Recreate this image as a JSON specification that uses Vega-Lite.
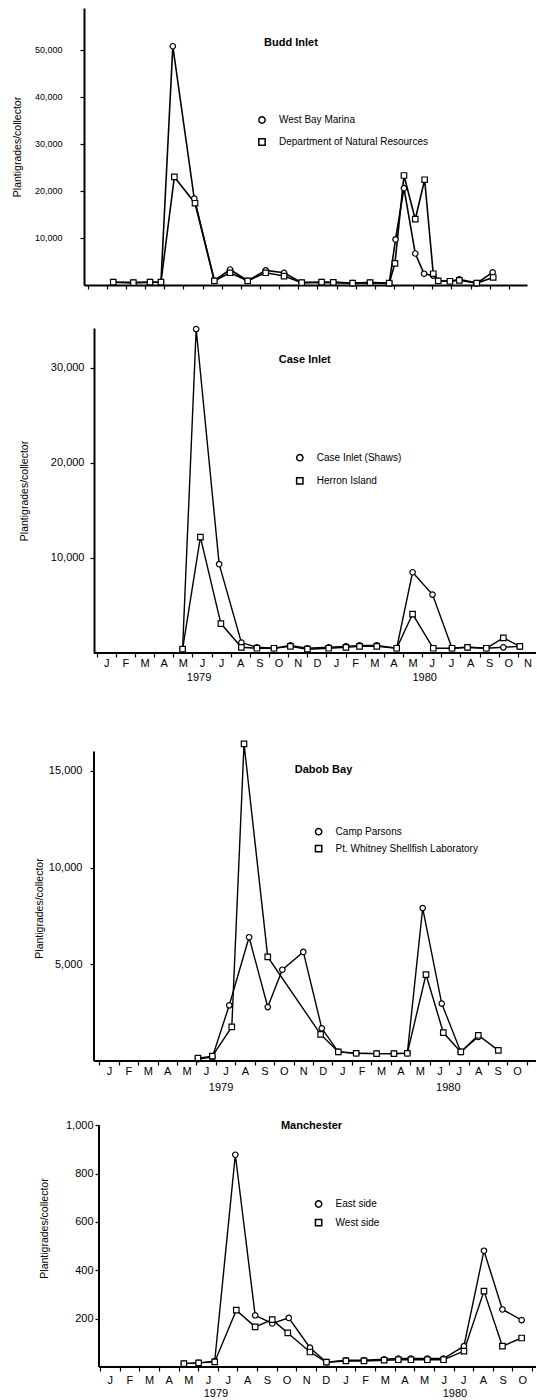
{
  "$schema": "https://vega.github.io/schema/vega-lite/v6.json",
  "background": "white",
  "padding": {"left": 12, "top": 8, "right": 0, "bottom": 0},
  "spacing": 43,
  "bounds": "flush",
  "resolve": {"scale": {"x": "independent", "y": "independent", "shape": "independent"}, "legend": {"shape": "independent"}},
  "config": {
    "font": "Liberation Sans",
    "view": {"stroke": null},
    "axis": {"grid": false, "domainColor": "black", "domainWidth": 2, "tickColor": "black", "tickWidth": 1.2, "tickSize": 4, "labelColor": "black", "labelFont": "Liberation Sans", "labelFontSize": 11, "titleColor": "black", "titleFont": "Liberation Sans", "titleFontSize": 10.5, "titleFontWeight": "normal"},
    "legend": {"labelColor": "black", "labelFont": "Liberation Sans", "labelFontSize": 10, "padding": 0}
  },
  "vconcat": [
    {
      "width": 443, "height": 277,
      "data": {"values": [
        {"site": "West Bay Marina", "month": 1.34, "value": 600},
        {"site": "West Bay Marina", "month": 2.39, "value": 500},
        {"site": "West Bay Marina", "month": 3.26, "value": 600},
        {"site": "West Bay Marina", "month": 3.83, "value": 600},
        {"site": "West Bay Marina", "month": 4.45, "value": 50800},
        {"site": "West Bay Marina", "month": 5.57, "value": 18400},
        {"site": "West Bay Marina", "month": 6.62, "value": 900},
        {"site": "West Bay Marina", "month": 7.44, "value": 3300},
        {"site": "West Bay Marina", "month": 8.36, "value": 900},
        {"site": "West Bay Marina", "month": 9.3, "value": 3100},
        {"site": "West Bay Marina", "month": 10.26, "value": 2600},
        {"site": "West Bay Marina", "month": 11.18, "value": 500},
        {"site": "West Bay Marina", "month": 12.22, "value": 600},
        {"site": "West Bay Marina", "month": 12.83, "value": 550},
        {"site": "West Bay Marina", "month": 13.84, "value": 400},
        {"site": "West Bay Marina", "month": 14.75, "value": 500},
        {"site": "West Bay Marina", "month": 15.75, "value": 400},
        {"site": "West Bay Marina", "month": 16.08, "value": 9700},
        {"site": "West Bay Marina", "month": 16.52, "value": 20600},
        {"site": "West Bay Marina", "month": 17.11, "value": 6700},
        {"site": "West Bay Marina", "month": 17.57, "value": 2400},
        {"site": "West Bay Marina", "month": 18.05, "value": 2000},
        {"site": "West Bay Marina", "month": 18.31, "value": 900},
        {"site": "West Bay Marina", "month": 18.92, "value": 800},
        {"site": "West Bay Marina", "month": 19.41, "value": 1200},
        {"site": "West Bay Marina", "month": 20.32, "value": 400},
        {"site": "West Bay Marina", "month": 21.15, "value": 2700},
        {"site": "Department of Natural Resources", "month": 1.34, "value": 600},
        {"site": "Department of Natural Resources", "month": 2.39, "value": 500},
        {"site": "Department of Natural Resources", "month": 3.26, "value": 600},
        {"site": "Department of Natural Resources", "month": 3.83, "value": 600},
        {"site": "Department of Natural Resources", "month": 4.53, "value": 23000},
        {"site": "Department of Natural Resources", "month": 5.61, "value": 17400},
        {"site": "Department of Natural Resources", "month": 6.62, "value": 900},
        {"site": "Department of Natural Resources", "month": 7.44, "value": 2600},
        {"site": "Department of Natural Resources", "month": 8.36, "value": 900},
        {"site": "Department of Natural Resources", "month": 9.3, "value": 2600},
        {"site": "Department of Natural Resources", "month": 10.26, "value": 1900},
        {"site": "Department of Natural Resources", "month": 11.18, "value": 500},
        {"site": "Department of Natural Resources", "month": 12.22, "value": 600},
        {"site": "Department of Natural Resources", "month": 12.83, "value": 550},
        {"site": "Department of Natural Resources", "month": 13.84, "value": 400},
        {"site": "Department of Natural Resources", "month": 14.75, "value": 500},
        {"site": "Department of Natural Resources", "month": 15.75, "value": 400},
        {"site": "Department of Natural Resources", "month": 16.05, "value": 4600},
        {"site": "Department of Natural Resources", "month": 16.52, "value": 23300},
        {"site": "Department of Natural Resources", "month": 17.11, "value": 14000},
        {"site": "Department of Natural Resources", "month": 17.6, "value": 22400},
        {"site": "Department of Natural Resources", "month": 18.05, "value": 2400},
        {"site": "Department of Natural Resources", "month": 18.31, "value": 900},
        {"site": "Department of Natural Resources", "month": 18.92, "value": 800},
        {"site": "Department of Natural Resources", "month": 19.41, "value": 1000},
        {"site": "Department of Natural Resources", "month": 20.32, "value": 400},
        {"site": "Department of Natural Resources", "month": 21.18, "value": 1600}
      ]},
      "layer": [
        {"mark": {"type": "line", "color": "black", "strokeWidth": 1.6},
          "encoding": {
            "x": {"field": "month", "type": "quantitative", "scale": {"domain": [-0.188, 22.945], "nice": false, "zero": false},
              "axis": {"title": null, "values": [0,1,2,3,4,5,6,7,8,9,10,11,12,13,14,15,16,17,18,19,20,21,22], "tickCount": 23, "labels": false, "domain": true, "tickSize": 4}},
            "y": {"field": "value", "type": "quantitative", "scale": {"domain": [0, 58936], "nice": false, "zero": false},
              "axis": {"title": "Plantigrades/collector", "values": [10000, 20000, 30000, 40000, 50000], "format": ",.0f", "labelFontSize": 9, "labelPadding": 18, "minExtent": 55, "maxExtent": 55, "titlePadding": 7}},
            "detail": {"field": "site"}}},
        {"mark": {"type": "point", "filled": true, "fill": "white", "stroke": "black", "strokeWidth": 1.2, "size": 30, "opacity": 1},
          "encoding": {
            "x": {"field": "month", "type": "quantitative", "axis": {"title": null, "values": [0,1,2,3,4,5,6,7,8,9,10,11,12,13,14,15,16,17,18,19,20,21,22], "tickCount": 23, "labels": false, "domain": true, "tickSize": 4}},
            "y": {"field": "value", "type": "quantitative", "axis": {"title": "Plantigrades/collector", "values": [10000, 20000, 30000, 40000, 50000], "format": ",.0f", "labelFontSize": 9, "labelPadding": 18, "minExtent": 55, "maxExtent": 55, "titlePadding": 7}},
            "shape": {"field": "site", "type": "nominal",
              "scale": {"domain": ["West Bay Marina", "Department of Natural Resources"], "range": ["circle", "square"]},
              "legend": {"title": null, "orient": "none", "legendX": 173, "legendY": 107, "symbolSize": 40, "labelOffset": 12, "rowPadding": 8}}}},
        {"data": {"values": [{}]}, "mark": {"type": "text", "fontWeight": "bold", "fontSize": 11, "color": "black"},
          "encoding": {
            "x": {"datum": 10.62, "type": "quantitative", "axis": {"title": null, "values": [0,1,2,3,4,5,6,7,8,9,10,11,12,13,14,15,16,17,18,19,20,21,22], "tickCount": 23, "labels": false, "domain": true, "tickSize": 4}},
            "y": {"datum": 51400, "type": "quantitative", "axis": {"title": "Plantigrades/collector", "values": [10000, 20000, 30000, 40000, 50000], "format": ",.0f", "labelFontSize": 9, "labelPadding": 18, "minExtent": 55, "maxExtent": 55, "titlePadding": 7}},
            "text": {"value": "Budd Inlet"}}}
      ]
    },
    {
      "width": 452, "height": 325,
      "data": {"values": [
        {"site": "Case Inlet (Shaws)", "month": 4.49, "value": 400},
        {"site": "Case Inlet (Shaws)", "month": 5.2, "value": 34100},
        {"site": "Case Inlet (Shaws)", "month": 6.4, "value": 9350},
        {"site": "Case Inlet (Shaws)", "month": 7.56, "value": 1100},
        {"site": "Case Inlet (Shaws)", "month": 8.37, "value": 600},
        {"site": "Case Inlet (Shaws)", "month": 9.26, "value": 500},
        {"site": "Case Inlet (Shaws)", "month": 10.12, "value": 800},
        {"site": "Case Inlet (Shaws)", "month": 11.01, "value": 500},
        {"site": "Case Inlet (Shaws)", "month": 12.12, "value": 600},
        {"site": "Case Inlet (Shaws)", "month": 13.02, "value": 700},
        {"site": "Case Inlet (Shaws)", "month": 13.73, "value": 800},
        {"site": "Case Inlet (Shaws)", "month": 14.63, "value": 800},
        {"site": "Case Inlet (Shaws)", "month": 15.67, "value": 500},
        {"site": "Case Inlet (Shaws)", "month": 16.5, "value": 8500},
        {"site": "Case Inlet (Shaws)", "month": 17.54, "value": 6150},
        {"site": "Case Inlet (Shaws)", "month": 18.56, "value": 500},
        {"site": "Case Inlet (Shaws)", "month": 19.37, "value": 600},
        {"site": "Case Inlet (Shaws)", "month": 20.35, "value": 500},
        {"site": "Case Inlet (Shaws)", "month": 21.24, "value": 600},
        {"site": "Case Inlet (Shaws)", "month": 22.1, "value": 700},
        {"site": "Herron Island", "month": 4.49, "value": 400},
        {"site": "Herron Island", "month": 5.42, "value": 12200},
        {"site": "Herron Island", "month": 6.49, "value": 3100},
        {"site": "Herron Island", "month": 7.56, "value": 600},
        {"site": "Herron Island", "month": 8.37, "value": 500},
        {"site": "Herron Island", "month": 9.26, "value": 500},
        {"site": "Herron Island", "month": 10.12, "value": 700},
        {"site": "Herron Island", "month": 11.01, "value": 400},
        {"site": "Herron Island", "month": 12.12, "value": 500},
        {"site": "Herron Island", "month": 13.02, "value": 600},
        {"site": "Herron Island", "month": 13.73, "value": 700},
        {"site": "Herron Island", "month": 14.63, "value": 700},
        {"site": "Herron Island", "month": 15.67, "value": 500},
        {"site": "Herron Island", "month": 16.5, "value": 4100},
        {"site": "Herron Island", "month": 17.58, "value": 500},
        {"site": "Herron Island", "month": 18.56, "value": 500},
        {"site": "Herron Island", "month": 19.37, "value": 600},
        {"site": "Herron Island", "month": 20.35, "value": 500},
        {"site": "Herron Island", "month": 21.24, "value": 1600},
        {"site": "Herron Island", "month": 22.1, "value": 700}
      ]},
      "layer": [
        {"mark": {"type": "line", "color": "black", "strokeWidth": 1.4},
          "encoding": {
            "x": {"field": "month", "type": "quantitative", "scale": {"domain": [-0.658, 22.945], "nice": false, "zero": false},
              "axis": {"title": null, "values": [0,1,2,3,4,5,6,7,8,9,10,11,12,13,14,15,16,17,18,19,20,21,22], "tickCount": 23, "domain": false, "tickSize": 4, "labelPadding": 0, "labelOffset": 9.6, "labelExpr": "substring('JFMAMJJASOND', datum.value % 12, datum.value % 12 + 1)", "labelFlush": false, "labelOverlap": false, "labelBound": false}},
            "y": {"field": "value", "type": "quantitative", "scale": {"domain": [0, 34210], "nice": false, "zero": false},
              "axis": {"title": "Plantigrades/collector", "values": [10000, 20000, 30000], "format": ",.0f", "offset": -10, "labelPadding": 6, "minExtent": 55, "maxExtent": 55, "titlePadding": 9.3}},
            "detail": {"field": "site"}}},
        {"mark": {"type": "point", "filled": true, "fill": "white", "stroke": "black", "strokeWidth": 1.2, "size": 30, "opacity": 1},
          "encoding": {
            "x": {"field": "month", "type": "quantitative", "axis": {"title": null, "values": [0,1,2,3,4,5,6,7,8,9,10,11,12,13,14,15,16,17,18,19,20,21,22], "tickCount": 23, "domain": false, "tickSize": 4, "labelPadding": 0, "labelOffset": 9.6, "labelExpr": "substring('JFMAMJJASOND', datum.value % 12, datum.value % 12 + 1)", "labelFlush": false, "labelOverlap": false, "labelBound": false}},
            "y": {"field": "value", "type": "quantitative", "axis": {"title": "Plantigrades/collector", "values": [10000, 20000, 30000], "format": ",.0f", "offset": -10, "labelPadding": 6, "minExtent": 55, "maxExtent": 55, "titlePadding": 9.3}},
            "shape": {"field": "site", "type": "nominal",
              "scale": {"domain": ["Case Inlet (Shaws)", "Herron Island"], "range": ["circle", "square"]},
              "legend": {"title": null, "orient": "none", "legendX": 210.8, "legendY": 124.7, "symbolSize": 40, "labelOffset": 12, "rowPadding": 9.2}}}},
        {"data": {"values": [{}]}, "mark": {"type": "rule", "color": "black", "strokeWidth": 2},
          "encoding": {
            "x": {"datum": -0.136, "type": "quantitative", "axis": {"title": null, "values": [0,1,2,3,4,5,6,7,8,9,10,11,12,13,14,15,16,17,18,19,20,21,22], "tickCount": 23, "domain": false, "tickSize": 4, "labelPadding": 0, "labelOffset": 9.6, "labelExpr": "substring('JFMAMJJASOND', datum.value % 12, datum.value % 12 + 1)", "labelFlush": false, "labelOverlap": false, "labelBound": false}},
            "x2": {"datum": 22.945},
            "y": {"datum": 1, "type": "quantitative", "axis": {"title": "Plantigrades/collector", "values": [10000, 20000, 30000], "format": ",.0f", "offset": -10, "labelPadding": 6, "minExtent": 55, "maxExtent": 55, "titlePadding": 9.3}}}},
        {"data": {"values": [{}]}, "mark": {"type": "text", "fontWeight": "bold", "fontSize": 11, "color": "black"},
          "encoding": {
            "x": {"datum": 10.87, "type": "quantitative", "axis": {"title": null, "values": [0,1,2,3,4,5,6,7,8,9,10,11,12,13,14,15,16,17,18,19,20,21,22], "tickCount": 23, "domain": false, "tickSize": 4, "labelPadding": 0, "labelOffset": 9.6, "labelExpr": "substring('JFMAMJJASOND', datum.value % 12, datum.value % 12 + 1)", "labelFlush": false, "labelOverlap": false, "labelBound": false}},
            "y": {"datum": 30840, "type": "quantitative", "axis": {"title": "Plantigrades/collector", "values": [10000, 20000, 30000], "format": ",.0f", "offset": -10, "labelPadding": 6, "minExtent": 55, "maxExtent": 55, "titlePadding": 9.3}},
            "text": {"value": "Case Inlet"}}},
        {"data": {"values": [{}]}, "mark": {"type": "text", "fontSize": 11, "color": "black"},
          "encoding": {
            "x": {"datum": 5.35, "type": "quantitative", "axis": {"title": null, "values": [0,1,2,3,4,5,6,7,8,9,10,11,12,13,14,15,16,17,18,19,20,21,22], "tickCount": 23, "domain": false, "tickSize": 4, "labelPadding": 0, "labelOffset": 9.6, "labelExpr": "substring('JFMAMJJASOND', datum.value % 12, datum.value % 12 + 1)", "labelFlush": false, "labelOverlap": false, "labelBound": false}},
            "y": {"datum": -2630, "type": "quantitative", "axis": {"title": "Plantigrades/collector", "values": [10000, 20000, 30000], "format": ",.0f", "offset": -10, "labelPadding": 6, "minExtent": 55, "maxExtent": 55, "titlePadding": 9.3}},
            "text": {"value": "1979"}}},
        {"data": {"values": [{}]}, "mark": {"type": "text", "fontSize": 11, "color": "black"},
          "encoding": {
            "x": {"datum": 17.13, "type": "quantitative", "axis": {"title": null, "values": [0,1,2,3,4,5,6,7,8,9,10,11,12,13,14,15,16,17,18,19,20,21,22], "tickCount": 23, "domain": false, "tickSize": 4, "labelPadding": 0, "labelOffset": 9.6, "labelExpr": "substring('JFMAMJJASOND', datum.value % 12, datum.value % 12 + 1)", "labelFlush": false, "labelOverlap": false, "labelBound": false}},
            "y": {"datum": -2630, "type": "quantitative", "axis": {"title": "Plantigrades/collector", "values": [10000, 20000, 30000], "format": ",.0f", "offset": -10, "labelPadding": 6, "minExtent": 55, "maxExtent": 55, "titlePadding": 9.3}},
            "text": {"value": "1980"}}}
      ]
    },
    {
      "width": 452, "height": 365,
      "data": {"values": [
        {"site": "Camp Parsons", "month": 5.08, "value": 100},
        {"site": "Camp Parsons", "month": 5.82, "value": 200},
        {"site": "Camp Parsons", "month": 6.69, "value": 2880},
        {"site": "Camp Parsons", "month": 7.71, "value": 6400},
        {"site": "Camp Parsons", "month": 8.67, "value": 2790},
        {"site": "Camp Parsons", "month": 9.42, "value": 4720},
        {"site": "Camp Parsons", "month": 10.5, "value": 5640},
        {"site": "Camp Parsons", "month": 11.45, "value": 1690},
        {"site": "Camp Parsons", "month": 12.3, "value": 470},
        {"site": "Camp Parsons", "month": 13.22, "value": 400},
        {"site": "Camp Parsons", "month": 14.27, "value": 380},
        {"site": "Camp Parsons", "month": 15.16, "value": 380},
        {"site": "Camp Parsons", "month": 15.85, "value": 400},
        {"site": "Camp Parsons", "month": 16.64, "value": 7910},
        {"site": "Camp Parsons", "month": 17.62, "value": 2970},
        {"site": "Camp Parsons", "month": 18.6, "value": 470},
        {"site": "Camp Parsons", "month": 19.5, "value": 1250},
        {"site": "Pt. Whitney Shellfish Laboratory", "month": 5.08, "value": 150},
        {"site": "Pt. Whitney Shellfish Laboratory", "month": 5.82, "value": 250},
        {"site": "Pt. Whitney Shellfish Laboratory", "month": 6.82, "value": 1760},
        {"site": "Pt. Whitney Shellfish Laboratory", "month": 7.45, "value": 16400},
        {"site": "Pt. Whitney Shellfish Laboratory", "month": 8.67, "value": 5380},
        {"site": "Pt. Whitney Shellfish Laboratory", "month": 11.39, "value": 1380},
        {"site": "Pt. Whitney Shellfish Laboratory", "month": 12.3, "value": 470},
        {"site": "Pt. Whitney Shellfish Laboratory", "month": 13.22, "value": 400},
        {"site": "Pt. Whitney Shellfish Laboratory", "month": 14.27, "value": 380},
        {"site": "Pt. Whitney Shellfish Laboratory", "month": 15.16, "value": 380},
        {"site": "Pt. Whitney Shellfish Laboratory", "month": 15.85, "value": 400},
        {"site": "Pt. Whitney Shellfish Laboratory", "month": 16.81, "value": 4470},
        {"site": "Pt. Whitney Shellfish Laboratory", "month": 17.7, "value": 1470},
        {"site": "Pt. Whitney Shellfish Laboratory", "month": 18.6, "value": 470},
        {"site": "Pt. Whitney Shellfish Laboratory", "month": 19.5, "value": 1330},
        {"site": "Pt. Whitney Shellfish Laboratory", "month": 20.53, "value": 550}
      ]},
      "layer": [
        {"mark": {"type": "line", "color": "black", "strokeWidth": 1.4},
          "encoding": {
            "x": {"field": "month", "type": "quantitative", "scale": {"domain": [-0.782, 22.469], "nice": false, "zero": false},
              "axis": {"title": null, "values": [0,1,2,3,4,5,6,7,8,9,10,11,12,13,14,15,16,17,18,19,20,21,22], "tickCount": 23, "domain": false, "tickSize": 4, "labelPadding": 0, "labelOffset": 9.7, "labelExpr": "datum.value > 21 ? '' : substring('JFMAMJJASOND', datum.value % 12, datum.value % 12 + 1)", "labelFlush": false, "labelOverlap": false, "labelBound": false}},
            "y": {"field": "value", "type": "quantitative", "scale": {"domain": [0, 18873], "nice": false, "zero": false},
              "axis": {"title": "Plantigrades/collector", "values": [5000, 10000, 15000], "format": ",.0f", "offset": -10, "domain": false, "labelPadding": 8, "minExtent": 45, "maxExtent": 45, "titlePadding": 4.6, "titleY": 212}},
            "detail": {"field": "site"}}},
        {"mark": {"type": "point", "filled": true, "fill": "white", "stroke": "black", "strokeWidth": 1.2, "size": 30, "opacity": 1},
          "encoding": {
            "x": {"field": "month", "type": "quantitative", "axis": {"title": null, "values": [0,1,2,3,4,5,6,7,8,9,10,11,12,13,14,15,16,17,18,19,20,21,22], "tickCount": 23, "domain": false, "tickSize": 4, "labelPadding": 0, "labelOffset": 9.7, "labelExpr": "datum.value > 21 ? '' : substring('JFMAMJJASOND', datum.value % 12, datum.value % 12 + 1)", "labelFlush": false, "labelOverlap": false, "labelBound": false}},
            "y": {"field": "value", "type": "quantitative", "axis": {"title": "Plantigrades/collector", "values": [5000, 10000, 15000], "format": ",.0f", "offset": -10, "domain": false, "labelPadding": 8, "minExtent": 45, "maxExtent": 45, "titlePadding": 4.6, "titleY": 212}},
            "shape": {"field": "site", "type": "nominal",
              "scale": {"domain": ["Camp Parsons", "Pt. Whitney Shellfish Laboratory"], "range": ["circle", "square"]},
              "legend": {"title": null, "orient": "none", "legendX": 229.6, "legendY": 130.7, "symbolSize": 40, "labelOffset": 12, "rowPadding": 3}}}},
        {"data": {"values": [{}]}, "mark": {"type": "rule", "color": "black", "strokeWidth": 2},
          "encoding": {
            "x": {"datum": -0.267, "type": "quantitative", "axis": {"title": null, "values": [0,1,2,3,4,5,6,7,8,9,10,11,12,13,14,15,16,17,18,19,20,21,22], "tickCount": 23, "domain": false, "tickSize": 4, "labelPadding": 0, "labelOffset": 9.7, "labelExpr": "datum.value > 21 ? '' : substring('JFMAMJJASOND', datum.value % 12, datum.value % 12 + 1)", "labelFlush": false, "labelOverlap": false, "labelBound": false}},
            "y": {"datum": 1, "type": "quantitative", "axis": {"title": "Plantigrades/collector", "values": [5000, 10000, 15000], "format": ",.0f", "offset": -10, "domain": false, "labelPadding": 8, "minExtent": 45, "maxExtent": 45, "titlePadding": 4.6, "titleY": 212}},
            "y2": {"datum": 16000}}},
        {"data": {"values": [{}]}, "mark": {"type": "rule", "color": "black", "strokeWidth": 2},
          "encoding": {
            "x": {"datum": -0.267, "type": "quantitative", "axis": {"title": null, "values": [0,1,2,3,4,5,6,7,8,9,10,11,12,13,14,15,16,17,18,19,20,21,22], "tickCount": 23, "domain": false, "tickSize": 4, "labelPadding": 0, "labelOffset": 9.7, "labelExpr": "datum.value > 21 ? '' : substring('JFMAMJJASOND', datum.value % 12, datum.value % 12 + 1)", "labelFlush": false, "labelOverlap": false, "labelBound": false}},
            "x2": {"datum": 22.469},
            "y": {"datum": 1, "type": "quantitative", "axis": {"title": "Plantigrades/collector", "values": [5000, 10000, 15000], "format": ",.0f", "offset": -10, "domain": false, "labelPadding": 8, "minExtent": 45, "maxExtent": 45, "titlePadding": 4.6, "titleY": 212}}}},
        {"data": {"values": [{}]}, "mark": {"type": "text", "fontWeight": "bold", "fontSize": 11, "color": "black"},
          "encoding": {
            "x": {"datum": 11.54, "type": "quantitative", "axis": {"title": null, "values": [0,1,2,3,4,5,6,7,8,9,10,11,12,13,14,15,16,17,18,19,20,21,22], "tickCount": 23, "domain": false, "tickSize": 4, "labelPadding": 0, "labelOffset": 9.7, "labelExpr": "datum.value > 21 ? '' : substring('JFMAMJJASOND', datum.value % 12, datum.value % 12 + 1)", "labelFlush": false, "labelOverlap": false, "labelBound": false}},
            "y": {"datum": 15070, "type": "quantitative", "axis": {"title": "Plantigrades/collector", "values": [5000, 10000, 15000], "format": ",.0f", "offset": -10, "domain": false, "labelPadding": 8, "minExtent": 45, "maxExtent": 45, "titlePadding": 4.6, "titleY": 212}},
            "text": {"value": "Dabob Bay"}}},
        {"data": {"values": [{}]}, "mark": {"type": "text", "fontSize": 11, "color": "black"},
          "encoding": {
            "x": {"datum": 6.27, "type": "quantitative", "axis": {"title": null, "values": [0,1,2,3,4,5,6,7,8,9,10,11,12,13,14,15,16,17,18,19,20,21,22], "tickCount": 23, "domain": false, "tickSize": 4, "labelPadding": 0, "labelOffset": 9.7, "labelExpr": "datum.value > 21 ? '' : substring('JFMAMJJASOND', datum.value % 12, datum.value % 12 + 1)", "labelFlush": false, "labelOverlap": false, "labelBound": false}},
            "y": {"datum": -1410, "type": "quantitative", "axis": {"title": "Plantigrades/collector", "values": [5000, 10000, 15000], "format": ",.0f", "offset": -10, "domain": false, "labelPadding": 8, "minExtent": 45, "maxExtent": 45, "titlePadding": 4.6, "titleY": 212}},
            "text": {"value": "1979"}}},
        {"data": {"values": [{}]}, "mark": {"type": "text", "fontSize": 11, "color": "black"},
          "encoding": {
            "x": {"datum": 17.96, "type": "quantitative", "axis": {"title": null, "values": [0,1,2,3,4,5,6,7,8,9,10,11,12,13,14,15,16,17,18,19,20,21,22], "tickCount": 23, "domain": false, "tickSize": 4, "labelPadding": 0, "labelOffset": 9.7, "labelExpr": "datum.value > 21 ? '' : substring('JFMAMJJASOND', datum.value % 12, datum.value % 12 + 1)", "labelFlush": false, "labelOverlap": false, "labelBound": false}},
            "y": {"datum": -1410, "type": "quantitative", "axis": {"title": "Plantigrades/collector", "values": [5000, 10000, 15000], "format": ",.0f", "offset": -10, "domain": false, "labelPadding": 8, "minExtent": 45, "maxExtent": 45, "titlePadding": 4.6, "titleY": 212}},
            "text": {"value": "1980"}}}
      ]
    },
    {
      "width": 452, "height": 263,
      "data": {"values": [
        {"site": "East side", "month": 4.27, "value": 14},
        {"site": "East side", "month": 5.02, "value": 17},
        {"site": "East side", "month": 5.84, "value": 24},
        {"site": "East side", "month": 6.89, "value": 878},
        {"site": "East side", "month": 7.9, "value": 214},
        {"site": "East side", "month": 8.77, "value": 180},
        {"site": "East side", "month": 9.61, "value": 203},
        {"site": "East side", "month": 10.69, "value": 80},
        {"site": "East side", "month": 11.53, "value": 20},
        {"site": "East side", "month": 12.52, "value": 28},
        {"site": "East side", "month": 13.44, "value": 28},
        {"site": "East side", "month": 14.47, "value": 32},
        {"site": "East side", "month": 15.19, "value": 35},
        {"site": "East side", "month": 15.83, "value": 35},
        {"site": "East side", "month": 16.67, "value": 35},
        {"site": "East side", "month": 17.49, "value": 35},
        {"site": "East side", "month": 18.53, "value": 86},
        {"site": "East side", "month": 19.55, "value": 481},
        {"site": "East side", "month": 20.49, "value": 238},
        {"site": "East side", "month": 21.47, "value": 194},
        {"site": "West side", "month": 4.27, "value": 14},
        {"site": "West side", "month": 5.02, "value": 17},
        {"site": "West side", "month": 5.84, "value": 21},
        {"site": "West side", "month": 6.94, "value": 235},
        {"site": "West side", "month": 7.9, "value": 166},
        {"site": "West side", "month": 8.77, "value": 196},
        {"site": "West side", "month": 9.56, "value": 141},
        {"site": "West side", "month": 10.69, "value": 62},
        {"site": "West side", "month": 11.53, "value": 20},
        {"site": "West side", "month": 12.52, "value": 25},
        {"site": "West side", "month": 13.44, "value": 25},
        {"site": "West side", "month": 14.47, "value": 28},
        {"site": "West side", "month": 15.19, "value": 30},
        {"site": "West side", "month": 15.83, "value": 30},
        {"site": "West side", "month": 16.67, "value": 30},
        {"site": "West side", "month": 17.49, "value": 30},
        {"site": "West side", "month": 18.53, "value": 66},
        {"site": "West side", "month": 19.55, "value": 314},
        {"site": "West side", "month": 20.49, "value": 86},
        {"site": "West side", "month": 21.47, "value": 120}
      ]},
      "layer": [
        {"mark": {"type": "line", "color": "black", "strokeWidth": 1.4},
          "encoding": {
            "x": {"field": "month", "type": "quantitative", "scale": {"domain": [-0.815, 22.2], "nice": false, "zero": false},
              "axis": {"title": null, "values": [0,1,2,3,4,5,6,7,8,9,10,11,12,13,14,15,16,17,18,19,20,21,22], "tickCount": 23, "domain": false, "tickSize": 4, "labelPadding": 3, "labelOffset": 9.8, "labelExpr": "datum.value > 21 ? '' : substring('JFMAMJJASOND', datum.value % 12, datum.value % 12 + 1)", "labelFlush": false, "labelOverlap": false, "labelBound": false}},
            "y": {"field": "value", "type": "quantitative", "scale": {"domain": [0, 1088], "nice": false, "zero": false},
              "axis": {"title": "Plantigrades/collector", "values": [200, 400, 600, 800, 1000], "format": ",.0f", "offset": -15, "domain": false, "labelPadding": 2, "minExtent": 45, "maxExtent": 45, "titlePadding": 4.5, "titleY": 124}},
            "detail": {"field": "site"}}},
        {"mark": {"type": "point", "filled": true, "fill": "white", "stroke": "black", "strokeWidth": 1.2, "size": 30, "opacity": 1},
          "encoding": {
            "x": {"field": "month", "type": "quantitative", "axis": {"title": null, "values": [0,1,2,3,4,5,6,7,8,9,10,11,12,13,14,15,16,17,18,19,20,21,22], "tickCount": 23, "domain": false, "tickSize": 4, "labelPadding": 3, "labelOffset": 9.8, "labelExpr": "datum.value > 21 ? '' : substring('JFMAMJJASOND', datum.value % 12, datum.value % 12 + 1)", "labelFlush": false, "labelOverlap": false, "labelBound": false}},
            "y": {"field": "value", "type": "quantitative", "axis": {"title": "Plantigrades/collector", "values": [200, 400, 600, 800, 1000], "format": ",.0f", "offset": -15, "domain": false, "labelPadding": 2, "minExtent": 45, "maxExtent": 45, "titlePadding": 4.5, "titleY": 124}},
            "shape": {"field": "site", "type": "nominal",
              "scale": {"domain": ["East side", "West side"], "range": ["circle", "square"]},
              "legend": {"title": null, "orient": "none", "legendX": 229.6, "legendY": 95, "symbolSize": 40, "labelOffset": 12, "rowPadding": 4.6}}}},
        {"data": {"values": [{}]}, "mark": {"type": "rule", "color": "black", "strokeWidth": 2},
          "encoding": {
            "x": {"datum": -0.051, "type": "quantitative", "axis": {"title": null, "values": [0,1,2,3,4,5,6,7,8,9,10,11,12,13,14,15,16,17,18,19,20,21,22], "tickCount": 23, "domain": false, "tickSize": 4, "labelPadding": 3, "labelOffset": 9.8, "labelExpr": "datum.value > 21 ? '' : substring('JFMAMJJASOND', datum.value % 12, datum.value % 12 + 1)", "labelFlush": false, "labelOverlap": false, "labelBound": false}},
            "y": {"datum": 0.01, "type": "quantitative", "axis": {"title": "Plantigrades/collector", "values": [200, 400, 600, 800, 1000], "format": ",.0f", "offset": -15, "domain": false, "labelPadding": 2, "minExtent": 45, "maxExtent": 45, "titlePadding": 4.5, "titleY": 124}},
            "y2": {"datum": 1000}}},
        {"data": {"values": [{}]}, "mark": {"type": "rule", "color": "black", "strokeWidth": 2},
          "encoding": {
            "x": {"datum": -0.051, "type": "quantitative", "axis": {"title": null, "values": [0,1,2,3,4,5,6,7,8,9,10,11,12,13,14,15,16,17,18,19,20,21,22], "tickCount": 23, "domain": false, "tickSize": 4, "labelPadding": 3, "labelOffset": 9.8, "labelExpr": "datum.value > 21 ? '' : substring('JFMAMJJASOND', datum.value % 12, datum.value % 12 + 1)", "labelFlush": false, "labelOverlap": false, "labelBound": false}},
            "x2": {"datum": 22.2},
            "y": {"datum": 0.01, "type": "quantitative", "axis": {"title": "Plantigrades/collector", "values": [200, 400, 600, 800, 1000], "format": ",.0f", "offset": -15, "domain": false, "labelPadding": 2, "minExtent": 45, "maxExtent": 45, "titlePadding": 4.5, "titleY": 124}}}},
        {"data": {"values": [{}]}, "mark": {"type": "text", "fontWeight": "bold", "fontSize": 11, "color": "black"},
          "encoding": {
            "x": {"datum": 10.77, "type": "quantitative", "axis": {"title": null, "values": [0,1,2,3,4,5,6,7,8,9,10,11,12,13,14,15,16,17,18,19,20,21,22], "tickCount": 23, "domain": false, "tickSize": 4, "labelPadding": 3, "labelOffset": 9.8, "labelExpr": "datum.value > 21 ? '' : substring('JFMAMJJASOND', datum.value % 12, datum.value % 12 + 1)", "labelFlush": false, "labelOverlap": false, "labelBound": false}},
            "y": {"datum": 996, "type": "quantitative", "axis": {"title": "Plantigrades/collector", "values": [200, 400, 600, 800, 1000], "format": ",.0f", "offset": -15, "domain": false, "labelPadding": 2, "minExtent": 45, "maxExtent": 45, "titlePadding": 4.5, "titleY": 124}},
            "text": {"value": "Manchester"}}},
        {"data": {"values": [{}]}, "mark": {"type": "text", "fontSize": 11, "color": "black"},
          "encoding": {
            "x": {"datum": 5.9, "type": "quantitative", "axis": {"title": null, "values": [0,1,2,3,4,5,6,7,8,9,10,11,12,13,14,15,16,17,18,19,20,21,22], "tickCount": 23, "domain": false, "tickSize": 4, "labelPadding": 3, "labelOffset": 9.8, "labelExpr": "datum.value > 21 ? '' : substring('JFMAMJJASOND', datum.value % 12, datum.value % 12 + 1)", "labelFlush": false, "labelOverlap": false, "labelBound": false}},
            "y": {"datum": -110, "type": "quantitative", "axis": {"title": "Plantigrades/collector", "values": [200, 400, 600, 800, 1000], "format": ",.0f", "offset": -15, "domain": false, "labelPadding": 2, "minExtent": 45, "maxExtent": 45, "titlePadding": 4.5, "titleY": 124}},
            "text": {"value": "1979"}}},
        {"data": {"values": [{}]}, "mark": {"type": "text", "fontSize": 11, "color": "black"},
          "encoding": {
            "x": {"datum": 18.07, "type": "quantitative", "axis": {"title": null, "values": [0,1,2,3,4,5,6,7,8,9,10,11,12,13,14,15,16,17,18,19,20,21,22], "tickCount": 23, "domain": false, "tickSize": 4, "labelPadding": 3, "labelOffset": 9.8, "labelExpr": "datum.value > 21 ? '' : substring('JFMAMJJASOND', datum.value % 12, datum.value % 12 + 1)", "labelFlush": false, "labelOverlap": false, "labelBound": false}},
            "y": {"datum": -110, "type": "quantitative", "axis": {"title": "Plantigrades/collector", "values": [200, 400, 600, 800, 1000], "format": ",.0f", "offset": -15, "domain": false, "labelPadding": 2, "minExtent": 45, "maxExtent": 45, "titlePadding": 4.5, "titleY": 124}},
            "text": {"value": "1980"}}}
      ]
    }
  ]
}
